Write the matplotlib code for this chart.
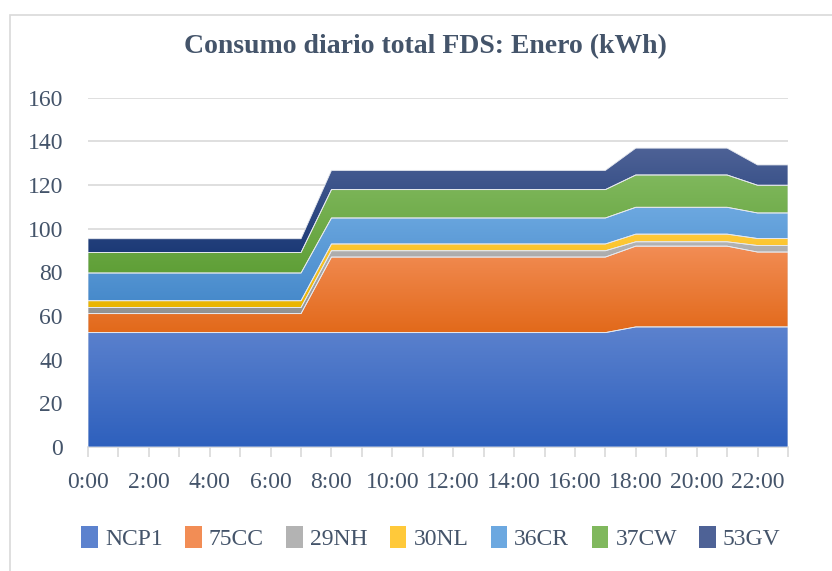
import matplotlib
matplotlib.use('Agg')
import matplotlib.pyplot as plt
import matplotlib.patches as patches
import numpy as np
from matplotlib.colors import LinearSegmentedColormap

hours = list(range(24))
hour_labels = ['%d:00' % h for h in hours]

ncp1 = [52.4] * 18 + [55.0] * 6
cc75 = [8.7] * 8 + [34.6] * 10 + [37.0] * 4 + [34.3] * 2
nh29 = [2.8] * 8 + [2.9] * 10 + [2.0] * 4 + [3.0] * 2
nl30 = [3.1] * 8 + [3.1] * 10 + [3.5] * 4 + [3.2] * 2
cr36 = [12.7] * 8 + [11.9] * 10 + [12.3] * 4 + [11.7] * 2
cw37 = [9.4] * 8 + [13.0] * 10 + [14.8] * 4 + [12.7] * 2
gv53 = [6.3] * 8 + [8.8] * 10 + [12.3] * 4 + [9.3] * 2

series = [ncp1, cc75, nh29, nl30, cr36, cw37, gv53]
names = ['NCP1', '75CC', '29NH', '30NL', '36CR', '37CW', '53GV']
# (top colour, bottom colour) for the Excel-like gradient fill
grads = [('#5C82CE', '#2E60BD'),
         ('#F28D55', '#E2691A'),
         ('#B3B3B3', '#929292'),
         ('#FFC93A', '#EAB500'),
         ('#6CA8E0', '#478ACB'),
         ('#80B85D', '#5F9F37'),
         ('#4E6296', '#1C3A77')]

text_col = '#44546A'
grid_col = '#D9D9D9'

plt.rcParams['font.family'] = ['Liberation Serif', 'DejaVu Serif']

fig = plt.figure(figsize=(8.32, 5.71), dpi=100)
ax = fig.add_axes([88 / 832, 1 - 447 / 571, 700 / 832, (447 - 97.7) / 571])

x = np.array(hours, dtype=float)
lower = np.zeros(len(hours))
grad = np.linspace(1, 0, 256).reshape(-1, 1)
for vals, name, (ctop, cbot) in zip(series, names, grads):
    upper = lower + np.array(vals)
    poly = ax.fill_between(x, lower, upper, facecolor='none',
                           edgecolor='#E6E9EF', linewidth=0.6, zorder=3)
    cmap = LinearSegmentedColormap.from_list(name, [cbot, ctop])
    im = ax.imshow(grad, cmap=cmap, aspect='auto', origin='upper',
                   extent=[x[0], x[-1], lower.min(), upper.max()], zorder=2)
    im.set_clip_path(poly.get_paths()[0], transform=ax.transData)
    lower = upper

ax.set_xlim(0, 23)
ax.set_ylim(0, 160)
ax.set_yticks(np.arange(0, 161, 20))
ax.yaxis.grid(True, color=grid_col, linewidth=1.2, zorder=0)
ax.set_axisbelow(True)
for side in ['top', 'right', 'left']:
    ax.spines[side].set_visible(False)
ax.spines['bottom'].set_color(grid_col)
ax.spines['bottom'].set_linewidth(1.2)
ax.spines['bottom'].set_zorder(1)

ax.set_xticks(hours[::2])
ax.set_xticklabels(hour_labels[::2])
ax.set_xticks(hours, minor=True)
ax.tick_params(axis='x', which='both', length=7, color=grid_col, width=1.2,
               labelsize=17, labelcolor=text_col, pad=11)
ax.tick_params(axis='y', length=0, labelsize=17, labelcolor=text_col, pad=18)

fig.text(425.5 / 832, 1 - 47 / 571, 'Consumo diario total FDS: Enero (kWh)',
         ha='center', va='center', fontsize=20, fontweight='bold', color=text_col)

handles = [patches.Patch(facecolor=c[0], edgecolor='none') for c in grads]
fig.legend(handles, names, loc='center', bbox_to_anchor=(431 / 832, 1 - 538 / 571),
           ncol=7, frameon=False, fontsize=17, labelcolor=text_col,
           handlelength=0.7, handleheight=1.1, handletextpad=0.3,
           columnspacing=0.95)

fig.patches.append(patches.Rectangle((9.5 / 832, -0.1), 1.2, 1 - 15 / 571 + 0.1,
                                     transform=fig.transFigure, fill=False,
                                     edgecolor=grid_col, linewidth=1.2))

fig.savefig('out.png', dpi=100)
